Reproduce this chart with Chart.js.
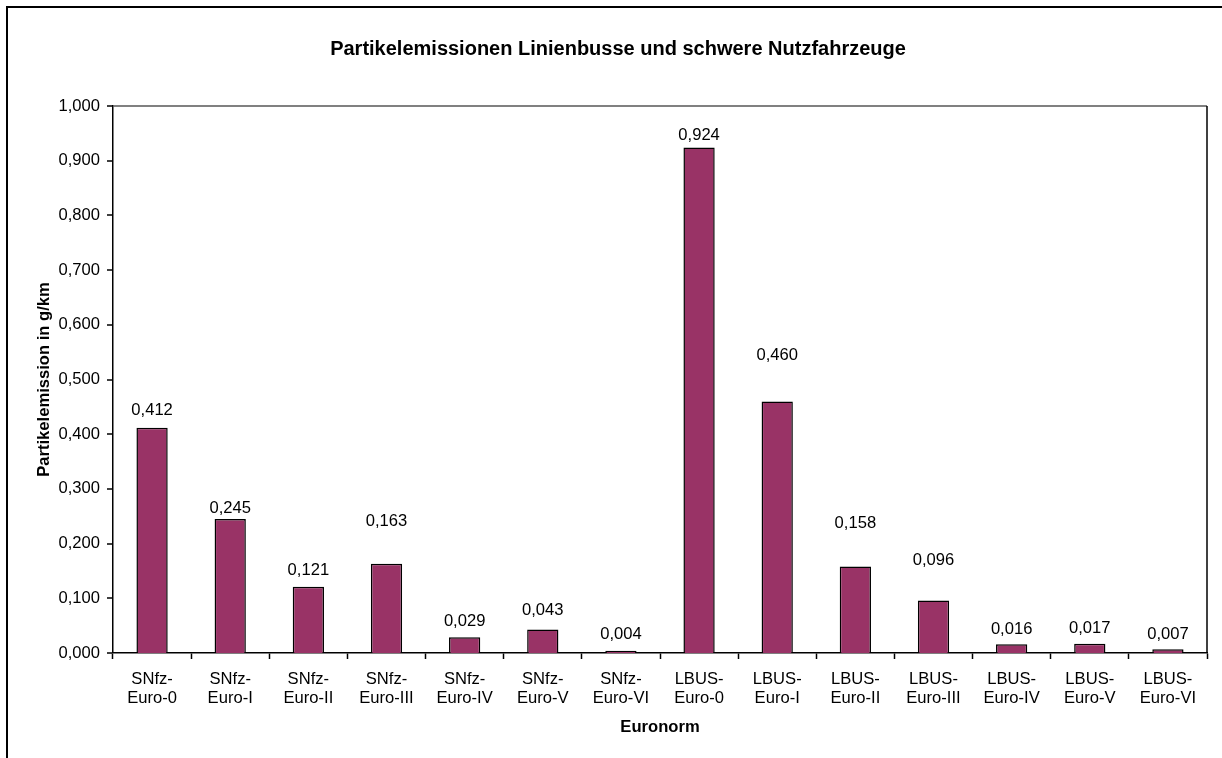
<!DOCTYPE html>
<html>
<head>
<meta charset="utf-8">
<script src="https://cdn.jsdelivr.net/npm/chart.js@4.4.1/dist/chart.umd.min.js"></script>
<style>
html,body{margin:0;padding:0;background:#fff;}
canvas{display:block;}
</style>
</head>
<body>
<canvas id="c" width="1222" height="758"></canvas>
<script>
const categories = [
  ['SNfz-','Euro-0'],['SNfz-','Euro-I'],['SNfz-','Euro-II'],['SNfz-','Euro-III'],
  ['SNfz-','Euro-IV'],['SNfz-','Euro-V'],['SNfz-','Euro-VI'],
  ['LBUS-','Euro-0'],['LBUS-','Euro-I'],['LBUS-','Euro-II'],['LBUS-','Euro-III'],
  ['LBUS-','Euro-IV'],['LBUS-','Euro-V'],['LBUS-','Euro-VI']
];
const emissions = [0.412, 0.245, 0.121, 0.163, 0.029, 0.043, 0.004, 0.924, 0.460, 0.158, 0.096, 0.016, 0.017, 0.007];
const yTickValues = [0, 0.1, 0.2, 0.3, 0.4, 0.5, 0.6, 0.7, 0.8, 0.9, 1.0];
const titleText = 'Partikelemissionen Linienbusse und schwere Nutzfahrzeuge';
const yTitle = 'Partikelemission in g/km';
const xTitle = 'Euronorm';

// label lift above bar top (style)
const labelLift = [17, 11, 16, 42, 16, 19, 16, 12, 46, 43, 40, 15, 15, 15];

const FONT = "'Liberation Sans', Arial, sans-serif";
const fmt = v => v.toFixed(3).replace('.', ',');

const framePlugin = {
  id: 'frame',
  afterDraw(chart) {
    const ctx = chart.ctx, a = chart.chartArea;
    ctx.save();
    ctx.strokeStyle = '#000';
    ctx.lineWidth = 2;
    ctx.strokeRect(7, 7, 1300, 800);
    // right edge of plot area
    ctx.lineWidth = 1.5;
    ctx.beginPath();
    ctx.moveTo(a.right, a.top);
    ctx.lineTo(a.right, a.bottom);
    ctx.stroke();
    // chart title
    ctx.fillStyle = '#000';
    ctx.textAlign = 'center';
    ctx.textBaseline = 'middle';
    ctx.font = 'bold 20px ' + FONT;
    ctx.fillText(titleText, 618, 49);
    // data labels
    ctx.font = '16.6px ' + FONT;
    const meta = chart.getDatasetMeta(0);
    meta.data.forEach((bar, i) => {
      ctx.fillText(fmt(emissions[i]), bar.x, bar.y - labelLift[i]);
    });
    ctx.restore();
  }
};

new Chart(document.getElementById('c'), {
  type: 'bar',
  data: {
    labels: categories,
    datasets: [{
      data: emissions,
      backgroundColor: '#993366',
      borderColor: '#000',
      borderWidth: 1.5,
      categoryPercentage: 1.0,
      barPercentage: 0.4
    }]
  },
  options: {
    responsive: false,
    animation: false,
    devicePixelRatio: 1,
    layout: { padding: { left: 0, right: 15, top: 106, bottom: 0 } },
    plugins: {
      legend: { display: false },
      tooltip: { enabled: false },
      title: { display: false }
    },
    scales: {
      x: {
        offset: true,
        grid: { offset: true, drawOnChartArea: false, tickLength: 6, tickColor: '#000', tickWidth: 1.5 },
        border: { display: true, color: '#000', width: 1.5 },
        ticks: {
          color: '#000', padding: 10.5, maxRotation: 0, autoSkip: false,
          font: { family: FONT, size: 16.6, lineHeight: 1.15 }
        },
        title: {
          display: true, text: xTitle, color: '#000',
          font: { family: FONT, size: 16.6, weight: 'bold', lineHeight: 1.2 },
          padding: { top: 0, bottom: 21 }
        },
        afterFit(scale) { scale.height = 105; }
      },
      y: {
        min: 0, max: 1,
        afterBuildTicks(scale) { scale.ticks = yTickValues.map(v => ({ value: v })); },
        grid: {
          drawOnChartArea: true,
          color: c => (c.tick && c.tick.value === 1) ? '#808080' : 'rgba(0,0,0,0)',
          lineWidth: c => (c.tick && c.tick.value === 1) ? 2 : 0,
          tickColor: '#000', tickLength: 6, tickWidth: 1.5
        },
        border: { display: true, color: '#000', width: 1.5 },
        ticks: {
          color: '#000', padding: 7,
          font: { family: FONT, size: 16.6, lineHeight: 1.2 },
          callback: v => fmt(v)
        },
        title: {
          display: true, text: yTitle, color: '#000',
          font: { family: FONT, size: 16.6, weight: 'bold', lineHeight: 1.2 },
          padding: { top: 34, bottom: 0 }
        },
        afterFit(scale) { scale.width = 113; }
      }
    }
  },
  plugins: [framePlugin]
});
</script>
</body>
</html>
